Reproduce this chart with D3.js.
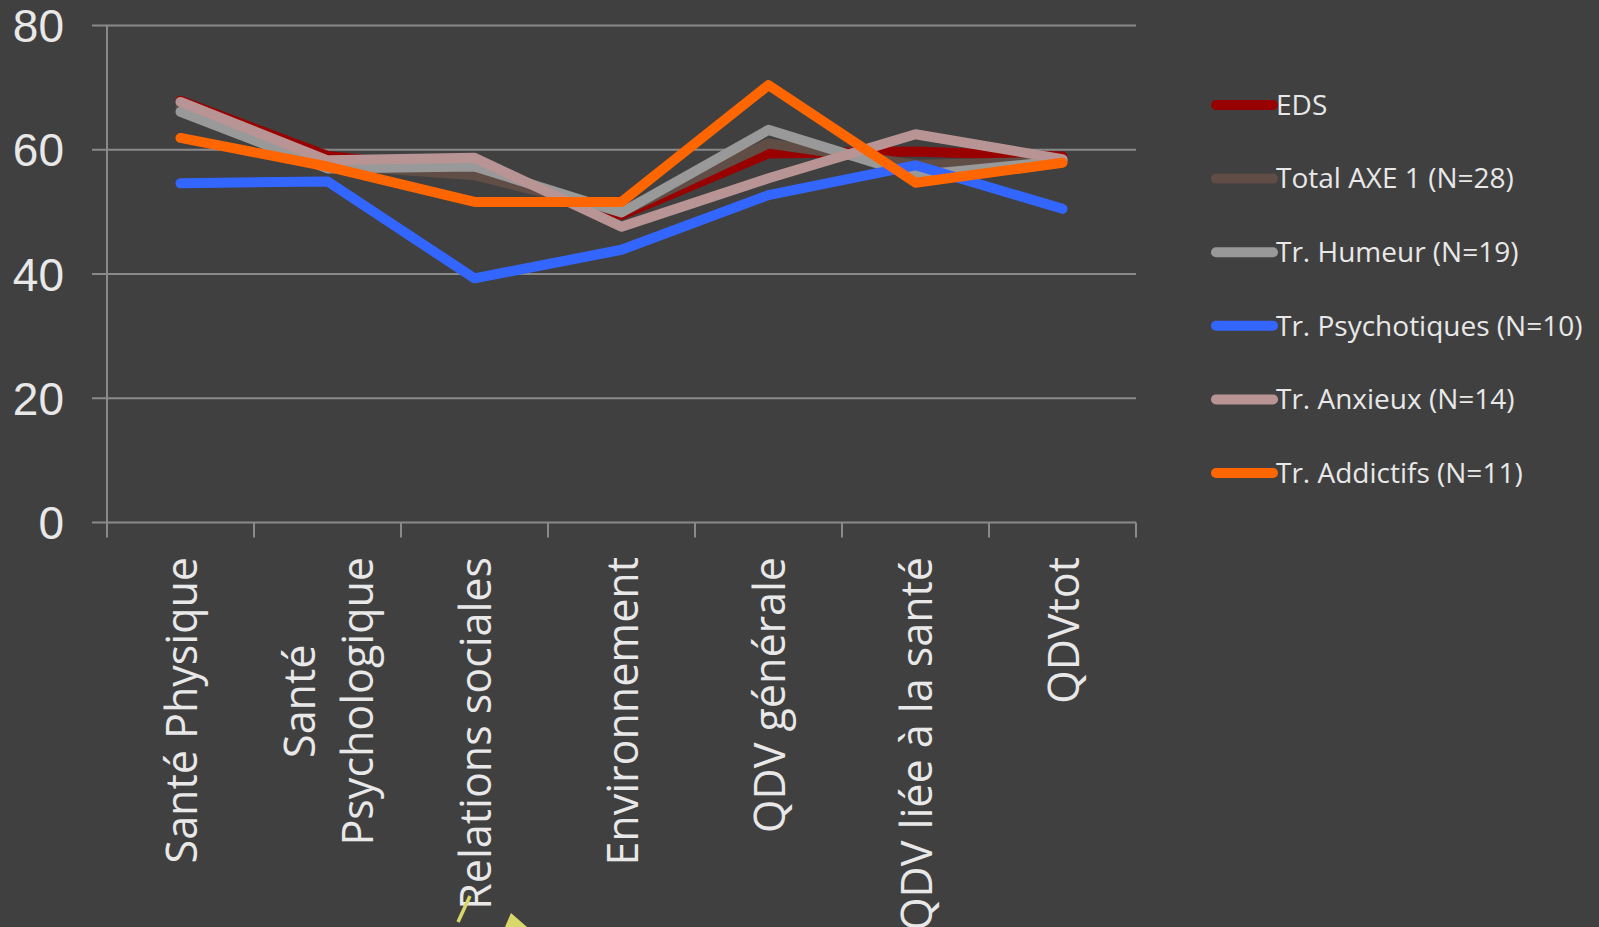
<!DOCTYPE html>
<html>
<head>
<meta charset="utf-8">
<script src="https://cdn.jsdelivr.net/npm/d3@7"></script>
<style>
  html, body { margin: 0; padding: 0; background: #404040; overflow: hidden; }
  svg { display: block; }
</style>
</head>
<body>
<svg id="chart" width="1599" height="927"></svg>
<script>
const categories = ["Santé Physique", "Santé Psychologique", "Relations sociales", "Environnement",
  "QDV générale", "QDV liée à la santé", "QDVtot"];
const tickLabels = [["Santé Physique"], ["Santé", "Psychologique"], ["Relations sociales"], ["Environnement"],
  ["QDV générale"], ["QDV liée à la santé"], ["QDVtot"]];
const yTicks = [0, 20, 40, 60, 80];

const seriesNames = ["EDS", "Total AXE 1 (N=28)", "Tr. Humeur (N=19)", "Tr. Psychotiques (N=10)",
  "Tr. Anxieux (N=14)", "Tr. Addictifs (N=11)"];
const eds         = [67.9, 59.0, 56.5, 49.5, 59.4, 59.7, 58.9];
const totalAxe1   = [67.0, 57.6, 55.9, 50.0, 61.0, 57.6, 58.1];
const humeur      = [66.1, 57.0, 57.3, 49.9, 63.2, 55.9, 58.2];
const psychotique = [54.6, 54.9, 39.3, 43.9, 52.7, 57.5, 50.5];
const anxieux     = [67.7, 58.3, 58.7, 47.6, 55.4, 62.5, 58.5];
const addictifs   = [61.9, 57.3, 51.6, 51.6, 70.4, 54.7, 57.9];
const colors = ["#990000", "#5f4d46", "#999999", "#3366ff", "#b99494", "#ff6600"];

const allSeries = [eds, totalAxe1, humeur, psychotique, anxieux, addictifs];

const svg = d3.select("#chart");
const plotLeft = 107, plotRight = 1136, plotTop = 25.5, plotBottom = 522.5;

const x = d3.scaleBand().domain(categories).range([plotLeft, plotRight]);
const y = d3.scaleLinear().domain([0, 80]).range([plotBottom, plotTop]);

const gridColor = "#8a8a8a";

// grille horizontale + graduations gauche
svg.append("g")
  .selectAll("line")
  .data(yTicks)
  .join("line")
  .attr("x1", plotLeft - 15).attr("x2", plotRight)
  .attr("y1", d => y(d)).attr("y2", d => y(d))
  .attr("stroke", gridColor).attr("stroke-width", 2);

// axe vertical
svg.append("line")
  .attr("x1", plotLeft).attr("x2", plotLeft)
  .attr("y1", y(80)).attr("y2", plotBottom + 15)
  .attr("stroke", gridColor).attr("stroke-width", 2);

// graduations de l'axe horizontal
const xBounds = categories.map(c => x(c)).concat([plotRight]);
svg.append("g")
  .selectAll("line")
  .data(xBounds.slice(1))
  .join("line")
  .attr("x1", d => d).attr("x2", d => d)
  .attr("y1", plotBottom).attr("y2", plotBottom + 15)
  .attr("stroke", gridColor).attr("stroke-width", 2);

// libellés Y
svg.append("g")
  .selectAll("text")
  .data(yTicks)
  .join("text")
  .attr("x", 64).attr("y", d => y(d))
  .attr("dy", "0.36em")
  .attr("text-anchor", "end")
  .attr("font-family", "'Liberation Sans', Arial, sans-serif")
  .attr("font-size", 46)
  .attr("fill", "#e8e8e8")
  .text(d => d);

// libellés X (rotation -90)
const labelTop = 557, fs = 43, lineH = 58;
categories.forEach((c, i) => {
  const lines = tickLabels[i];
  const g = svg.append("g")
    .attr("transform", `translate(${x(c) + x.bandwidth() / 2},${labelTop}) rotate(-90)`);
  const texts = g.selectAll("text")
    .data(lines)
    .join("text")
    .attr("font-family", "'Open Sans', sans-serif")
    .attr("font-size", fs)
    .attr("fill", "#e8e8e8")
    .attr("text-anchor", "middle")
    .attr("y", (d, j) => (j - (lines.length - 1) / 2) * lineH)
    .attr("dy", "0.38em")
    .text(d => d);
  const maxLen = d3.max(texts.nodes(), n => n.getComputedTextLength());
  texts.attr("x", -maxLen / 2);
});

// petites marques jaunes (flèche de la diapositive)
svg.append("line")
  .attr("x1", 458).attr("y1", 922).attr("x2", 470).attr("y2", 896)
  .attr("stroke", "#d8d86a").attr("stroke-width", 3.5);
svg.append("path")
  .attr("d", "M505,927 L511,913 L527,927 Z")
  .attr("fill", "#d8d86a");

// courbes
const line = d3.line()
  .x((d, i) => x(categories[i]) + x.bandwidth() / 2)
  .y(d => y(d));

svg.append("g")
  .selectAll("path")
  .data(allSeries)
  .join("path")
  .attr("d", d => line(d))
  .attr("fill", "none")
  .attr("stroke", (d, i) => colors[i])
  .attr("stroke-width", 10)
  .attr("stroke-linecap", "round")
  .attr("stroke-linejoin", "round");

// légende
const legend = svg.append("g");
seriesNames.forEach((name, i) => {
  const ly = 105 + i * 73.6;
  legend.append("line")
    .attr("x1", 1216).attr("x2", 1273)
    .attr("y1", ly).attr("y2", ly)
    .attr("stroke", colors[i]).attr("stroke-width", 10)
    .attr("stroke-linecap", "round");
  legend.append("text")
    .attr("x", 1276).attr("y", ly)
    .attr("dy", "0.35em")
    .attr("font-family", "'Open Sans', sans-serif")
    .attr("font-size", 28)
    .attr("fill", "#e8e8e8")
    .text(name);
});
</script>
</body>
</html>
